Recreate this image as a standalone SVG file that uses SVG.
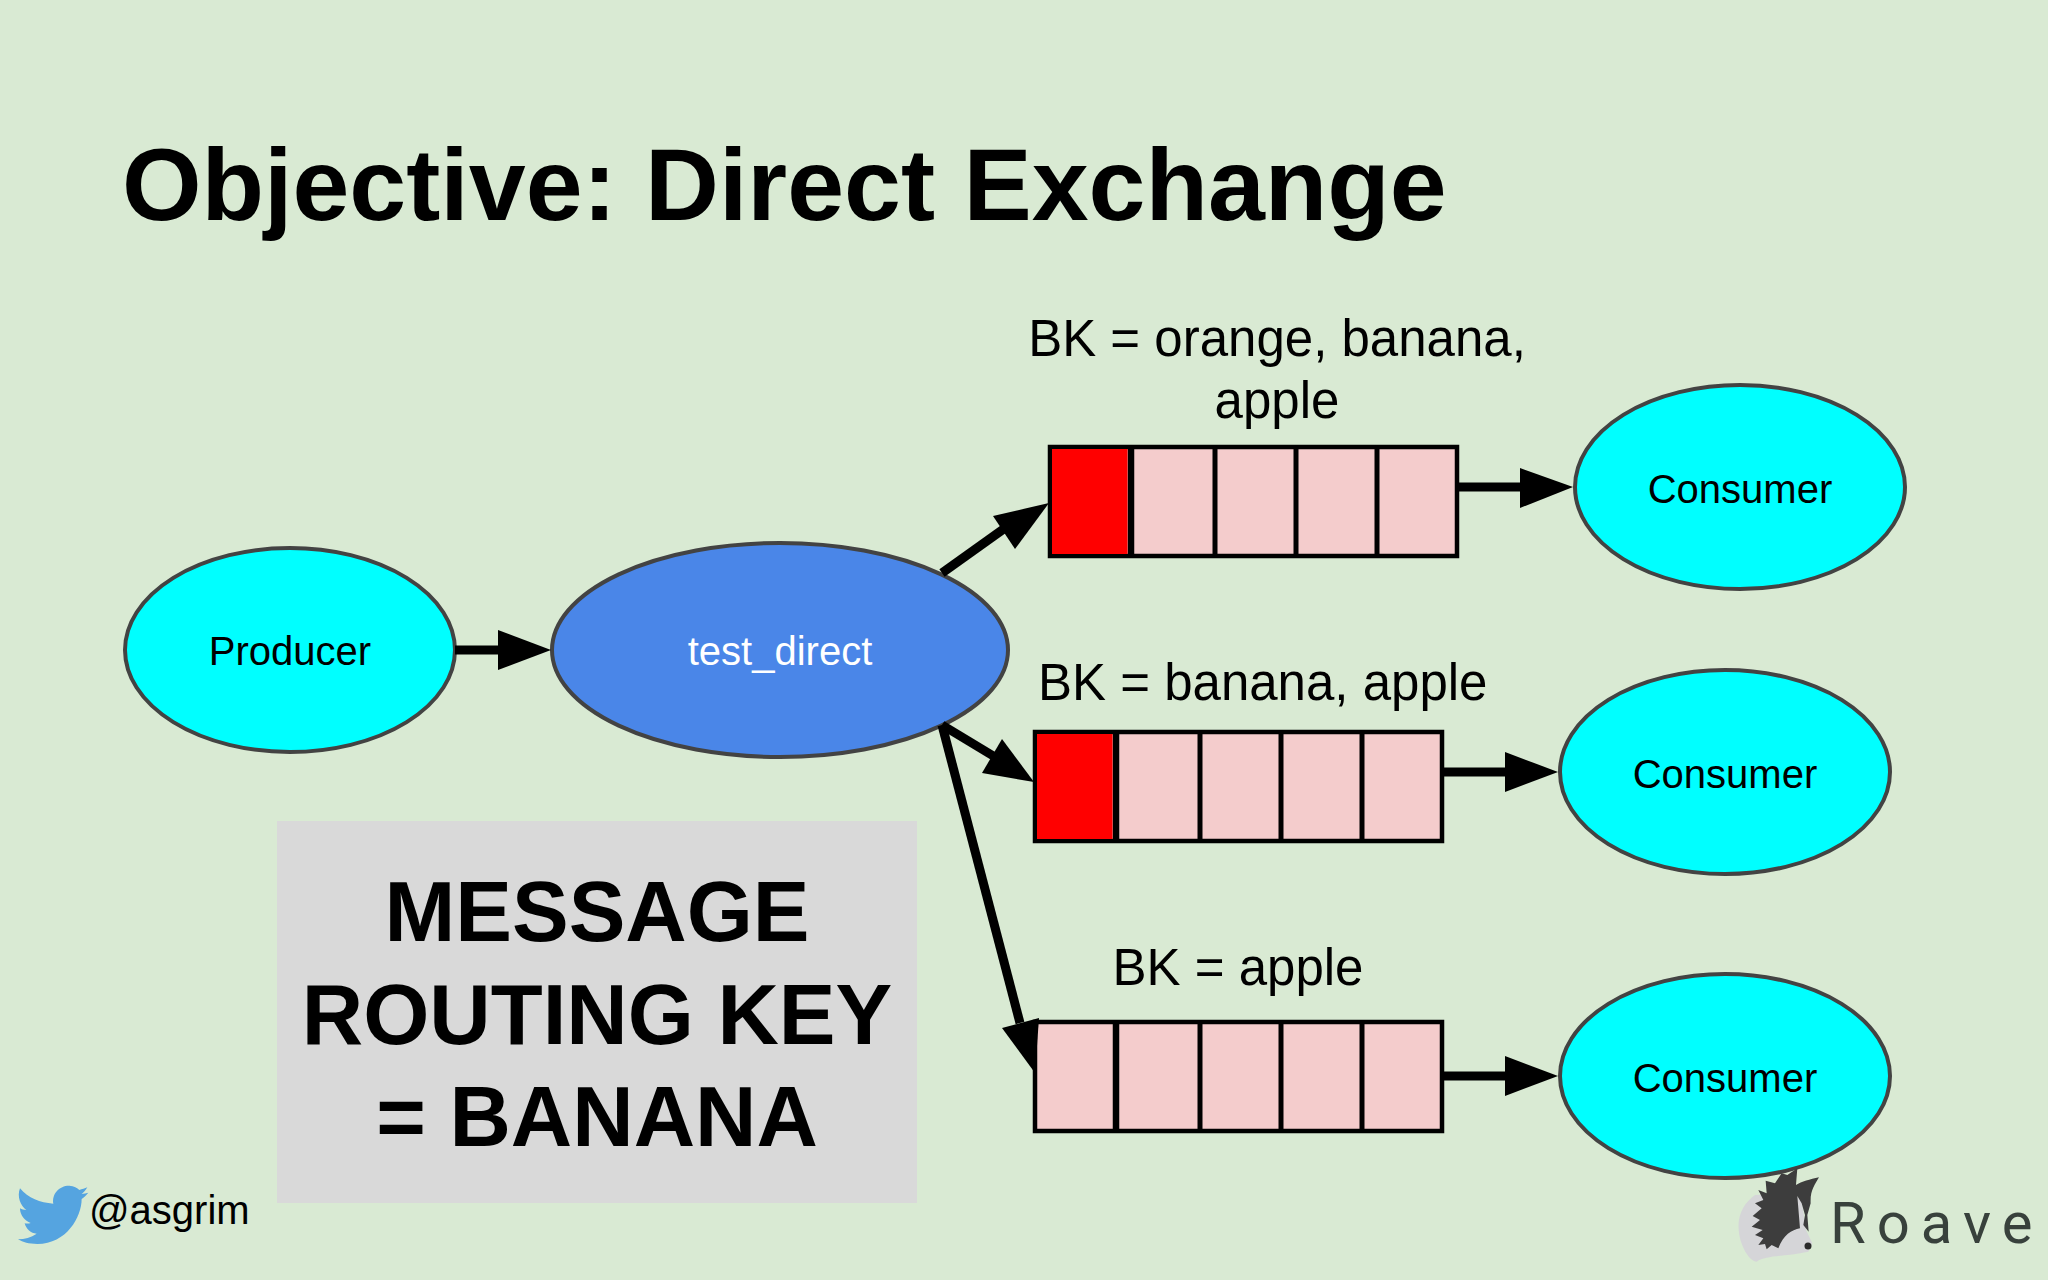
<svg xmlns="http://www.w3.org/2000/svg" width="2048" height="1280" viewBox="0 0 2048 1280">
<defs>
<style>
text{font-family:"Liberation Sans",Arial,sans-serif;fill:#000}
.n{font-size:40px;text-anchor:middle}
.bk{font-size:51px}
.m{font-size:85px;font-weight:bold;text-anchor:middle}
.el{stroke:#434343;stroke-width:4}
.c{fill:#00ffff}
.q{stroke:#000;stroke-width:4.500;fill:#f4cccc}
.d{stroke:#000;stroke-width:5;fill:none}
.st{stroke:#000;stroke-width:9;fill:none}
</style>
<g id="queue">
<rect class="q" x="0" y="0" width="407" height="109"/>
<line class="d" x1="81" y1="0" x2="81" y2="109" style="stroke-width:6.500"/>
<line class="d" x1="165" y1="0" x2="165" y2="109"/>
<line class="d" x1="246" y1="0" x2="246" y2="109"/>
<line class="d" x1="327" y1="0" x2="327" y2="109"/>
</g>
</defs>
<rect id="background" width="2048" height="1280" fill="#d9ead3"/>
<text x="122" y="220" style="font-size:102.300px;font-weight:bold">Objective: Direct Exchange</text>

<g id="message">
<rect x="277" y="821" width="640" height="382" fill="#d9d9d9"/>
<text class="m" x="597" y="941">MESSAGE</text>
<text class="m" x="597" y="1044">ROUTING KEY</text>
<text class="m" x="597" y="1146">= BANANA</text>
</g>

<g id="producer"><ellipse class="el c" cx="290" cy="650" rx="165" ry="102"/><text class="n" x="290" y="665">Producer</text></g>
<g id="exchange"><ellipse class="el" fill="#4a86e8" cx="780" cy="650" rx="228" ry="107"/><text class="n" x="780" y="665" style="fill:#fff">test_direct</text></g>

<g id="queue1">
<use href="#queue" x="1050" y="447"/>
<rect x="1052" y="449" width="75.500" height="105" fill="#f00"/>
<text class="bk" x="1277" y="356" text-anchor="middle">BK = orange, banana,</text>
<text class="bk" x="1277" y="418" text-anchor="middle">apple</text>
</g>
<g id="queue2">
<use href="#queue" x="1035" y="732"/>
<rect x="1037" y="734" width="75.500" height="105" fill="#f00"/>
<text class="bk" x="1038" y="700">BK = banana, apple</text>
</g>
<g id="queue3">
<use href="#queue" x="1035" y="1022"/>
<text class="bk" x="1238" y="985" text-anchor="middle">BK = apple</text>
</g>

<g id="consumer1"><ellipse class="el c" cx="1740" cy="487" rx="165" ry="102"/><text class="n" x="1740" y="503">Consumer</text></g>
<g id="consumer2"><ellipse class="el c" cx="1725" cy="772" rx="165" ry="102"/><text class="n" x="1725" y="788">Consumer</text></g>
<g id="consumer3"><ellipse class="el c" cx="1725" cy="1076" rx="165" ry="102"/><text class="n" x="1725" y="1092">Consumer</text></g>

<g id="connectors">
<line class="st" x1="455" y1="650" x2="510" y2="650"/><polygon points="551,650 498,630 498,670"/>
<line class="st" x1="942" y1="573" x2="1005" y2="528"/><polygon points="1049,503 993,516 1015,549"/>
<line class="st" x1="1457" y1="487" x2="1530" y2="487"/><polygon points="1573,487 1520,468 1520,508"/>
<line class="st" x1="942" y1="725" x2="995" y2="757"/><polygon points="1034,782 1002,739 982,773"/>
<line class="st" x1="1442" y1="772" x2="1515" y2="772"/><polygon points="1558,772 1505,752 1505,792"/>
<line class="st" x1="942" y1="725" x2="1020" y2="1023"/><polygon points="1035,1073 1002,1028 1039,1018"/>
<line class="st" x1="1442" y1="1076" x2="1515" y2="1076"/><polygon points="1558,1076 1505,1056 1505,1096"/>
</g>

<g id="twitter">
<path transform="translate(0 1160) scale(.3333)" fill="#55a4e0" d="M60 85C85 115 120 128 160 131C155 100 180 76 208 77C222 78 232 84 238 90C246 88 255 85 262 82C257 90 252 97 245 102C252 101 259 99 265 98C259 105 252 112 245 117C245 170 200 252 112 252C85 252 70 247 54 238C74 238 93 232 110 221C92 220 79 208 74 190C80 191 87 191 92 189C75 183 60 167 60 145C65 148 72 150 79 150C62 138 50 110 60 85Z"/>
<text x="89" y="1224" style="font-size:40px">@asgrim</text>
</g>
<g id="roave">
<path transform="translate(1700 1140) scale(.3333)" fill="#d5d5d8" d="M165 165C130 190 108 230 118 285C125 325 150 365 170 365C200 345 260 350 325 335L337 310L318 270L305 180L280 160Z"/>
<path transform="translate(1700 1140) scale(.3333)" fill="#3d3d3d" d="M292 85L288 135C305 125 330 118 357 112C345 135 330 150 332 190L322 225L326 275L310 255L315 225L305 190L292 168L300 265C275 270 250 285 235 325L215 315L200 328L195 312L175 315L190 295L165 285L188 270L155 260L180 240L158 228L185 205L165 190L190 180L175 150L200 160L197 122L225 130L245 100L262 105Z"/>
<circle cx="1808" cy="1246" r="3.500" fill="#2b2b2b"/>
<text x="1830" y="1243" style="font-family:Roboto,sans-serif;font-size:58px;letter-spacing:11px;fill:#38413c">Roave</text>
</g>
</svg>
